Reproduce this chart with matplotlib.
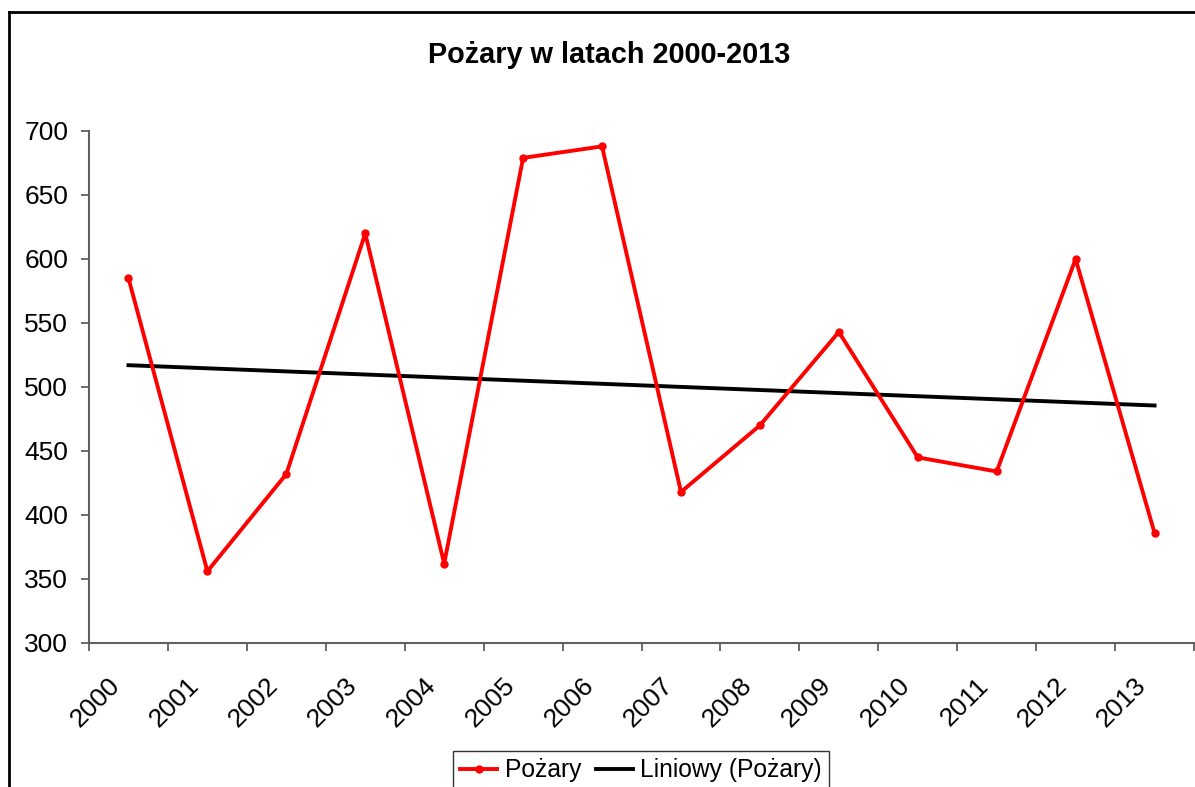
import numpy as np
import matplotlib
matplotlib.use("Agg")
import matplotlib.pyplot as plt
from matplotlib.lines import Line2D
from matplotlib.transforms import ScaledTranslation

plt.rcParams['font.family'] = ['Liberation Sans', 'DejaVu Sans']

years = ['2000', '2001', '2002', '2003', '2004', '2005', '2006',
         '2007', '2008', '2009', '2010', '2011', '2012', '2013']
fires = [585, 356, 432, 620, 362, 679, 688, 418, 470, 543, 445, 434, 600, 386]
title = 'Pożary w latach 2000-2013'
series_label = 'Pożary'
trend_label = 'Liniowy (Pożary)'

W, H = 1195, 787
fig = plt.figure(figsize=(W / 100, H / 100), dpi=100)
ax = fig.add_axes([89 / W, 1 - 643 / H, (1194 - 89) / W, (643 - 131) / H])

x = np.arange(len(years))
ax.plot(x, fires, color='#ff0000', lw=2.8, marker='o', ms=5,
        label=series_label, zorder=3)
coef = np.polyfit(x, fires, 1)
ax.plot(x, np.polyval(coef, x), color='black', lw=2.8, label=trend_label, zorder=2)

ax.set_xlim(-0.5, len(years) - 0.5)
ax.set_ylim(300, 700)
ax.set_yticks(np.arange(300, 701, 50))

ax.set_xticks(np.arange(-0.5, len(years), 1.0))
ax.set_xticklabels([])
ax.set_xticks(x, minor=True)
ax.set_xticklabels(years, minor=True, rotation=45, ha='right', va='center',
                   rotation_mode='anchor', fontsize=19)
ax.tick_params(axis='x', which='minor', length=0, pad=28)
ax.tick_params(axis='x', which='major', length=6, width=1.3, color='#606060', direction='out')
ax.tick_params(axis='y', length=6, width=1.3, color='#606060', direction='out',
               labelsize=19, pad=9)
off = ScaledTranslation(-0.12, 0, fig.dpi_scale_trans)
for lab in ax.get_xticklabels(minor=True):
    lab.set_transform(lab.get_transform() + off)

for s in ['top', 'right']:
    ax.spines[s].set_visible(False)
for s in ['left', 'bottom']:
    ax.spines[s].set_color('#606060')
    ax.spines[s].set_linewidth(1.5)

fig.text(609 / W, 1 - 55 / H, title, ha='center', va='center',
         fontsize=20.8, fontweight='bold')

# figure border (left and top visible)
fig.add_artist(Line2D([9 / W, 9 / W], [0, 1 - 12 / H], color='black', lw=2,
                      transform=fig.transFigure))
fig.add_artist(Line2D([9 / W, 1], [1 - 12 / H, 1 - 12 / H], color='black', lw=2,
                      transform=fig.transFigure))

leg = fig.legend(loc='upper left', bbox_to_anchor=(453 / W, 1 - 751 / H),
                 ncol=2, fontsize=17.7, frameon=True, fancybox=False,
                 edgecolor='black', handlelength=1.5, handletextpad=0.3,
                 columnspacing=0.6, borderpad=0.3, borderaxespad=0)
leg.get_frame().set_linewidth(1.0)

fig.savefig('out.png', dpi=100)
